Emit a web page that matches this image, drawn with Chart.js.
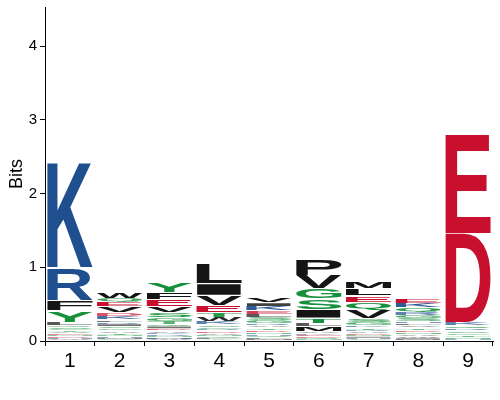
<!DOCTYPE html>
<html><head><meta charset="utf-8">
<script src="https://cdn.jsdelivr.net/npm/chart.js@4/dist/chart.umd.min.js"></script>
<style>html,body{margin:0;padding:0;background:#fff}#wrap{width:500px;height:400px}</style>
</head><body><div id="wrap"><canvas id="c" width="500" height="400"></canvas></div>
<script>
// Sequence logo data: letters listed bottom -> top, heights in bits
const positions = ['1','2','3','4','5','6','7','8','9'];
const letters1 = ['C','W','H','D','N','E','A','T','G','S','Q','L','Y','F','R','K'];
const bits1    = [0.01,0.01,0.02,0.02,0.02,0.02,0.02,0.02,0.02,0.03,0.02,0.04,0.16,0.14,0.44,1.43];
const letters2 = ['C','M','H','N','T','A','G','S','I','R','L','K','D','V','E','Q','W'];
const bits2    = [0.02,0.02,0.02,0.02,0.03,0.03,0.03,0.03,0.03,0.03,0.03,0.05,0.04,0.08,0.07,0.05,0.09];
const letters3 = ['C','W','M','H','N','R','K','A','D','I','Q','T','G','S','V','E','F','Y'];
const bits3    = [0.01,0.01,0.01,0.02,0.02,0.02,0.02,0.03,0.03,0.03,0.03,0.04,0.05,0.06,0.08,0.10,0.10,0.13];
const letters4 = ['Y','F','Q','N','A','D','R','G','S','K','W','T','E','V','I','L'];
const bits4    = [0.02,0.02,0.02,0.02,0.03,0.03,0.02,0.03,0.03,0.04,0.06,0.06,0.10,0.14,0.16,0.27];
const letters5 = ['M','F','Q','H','N','D','T','A','R','G','S','L','E','K','I','V'];
const bits5    = [0.03,0.02,0.02,0.02,0.03,0.03,0.03,0.03,0.03,0.04,0.04,0.04,0.05,0.06,0.05,0.07];
const letters6 = ['N','Q','D','E','K','A','M','L','T','I','S','G','V','P'];
const bits6    = [0.02,0.02,0.02,0.02,0.02,0.03,0.07,0.04,0.07,0.12,0.14,0.14,0.18,0.23];
const letters7 = ['C','H','I','N','D','A','R','T','K','G','S','V','Q','E','L','M'];
const bits7    = [0.02,0.02,0.02,0.02,0.02,0.03,0.02,0.03,0.03,0.04,0.05,0.12,0.10,0.09,0.10,0.10];
const letters8 = ['M','I','W','A','N','D','T','V','L','H','S','G','R','Q','K','E'];
const bits8    = [0.02,0.02,0.02,0.03,0.03,0.03,0.03,0.03,0.03,0.03,0.04,0.04,0.04,0.06,0.06,0.07];
const letters9 = ['H','N','T','G','S','R','Q','K','D','E'];
const bits9    = [0.02,0.03,0.03,0.03,0.03,0.03,0.04,0.04,1.21,1.36];
const yTicks = [0,1,2,3,4];

const stacks = [
  [letters1,bits1],[letters2,bits2],[letters3,bits3],[letters4,bits4],[letters5,bits5],
  [letters6,bits6],[letters7,bits7],[letters8,bits8],[letters9,bits9]
];

const BLUE='#1f4f8e', RED='#c8102e', GREEN='#17903c', BLACK='#151515';
const colorOf = {};
'KRH'.split('').forEach(c=>colorOf[c]=BLUE);
'DE'.split('').forEach(c=>colorOf[c]=RED);
'GSTYCQN'.split('').forEach(c=>colorOf[c]=GREEN);
'AVLIPWFM'.split('').forEach(c=>colorOf[c]=BLACK);

const nLayers = Math.max(...stacks.map(s=>s[0].length));
const datasets = [];
for (let j=0;j<nLayers;j++){
  datasets.push({
    data: stacks.map(s => (j < s[1].length ? s[1][j] : 0)),
    backgroundColor:'rgba(0,0,0,0)', borderWidth:0,
    barPercentage:0.91, categoryPercentage:1.0
  });
}

function drawGlyph(ctx,ch,x,y,w,h,color,alpha){
  ctx.save();
  ctx.globalAlpha=alpha;
  ctx.font='bold 200px "Liberation Sans"';
  ctx.textBaseline='alphabetic'; ctx.textAlign='left';
  const m=ctx.measureText(ch);
  const gl=m.actualBoundingBoxLeft, gr=m.actualBoundingBoxRight;
  const ga=m.actualBoundingBoxAscent, gd=m.actualBoundingBoxDescent;
  const gw=gl+gr, gh=ga+gd;
  ctx.translate(x,y); ctx.scale(w/gw,h/gh);
  ctx.fillStyle=color; ctx.fillText(ch,gl,ga);
  ctx.restore();
}

const logoPlugin = {
  id:'logo',
  afterDatasetsDraw(chart){
    const ctx=chart.ctx;
    chart.data.datasets.forEach((ds,di)=>{
      const meta=chart.getDatasetMeta(di);
      meta.data.forEach((el,i)=>{
        const L = stacks[i][0][di]; if(!L) return;
        const p = el.getProps(['x','y','base','width'],true);
        const top=Math.min(p.y,p.base), h=Math.abs(p.base-p.y);
        if(h<=0) return;
        const inset = Math.min(0.6, h*0.12);
        const alpha = Math.min(1, 0.3 + h*0.14);
        drawGlyph(ctx,L,p.x-p.width/2,top+inset,p.width,h-2*inset,colorOf[L]||BLACK,alpha);
      });
    });
  }
};

new Chart(document.getElementById('c'),{
  type:'bar',
  data:{labels:positions, datasets},
  plugins:[logoPlugin],
  options:{
    responsive:false, animation:false, devicePixelRatio:1,
    layout:{padding:{top:7,right:7,left:0,bottom:0}},
    plugins:{legend:{display:false},tooltip:{enabled:false}},
    scales:{
      x:{
        stacked:true, offset:true,
        grid:{drawOnChartArea:false, drawTicks:true, tickLength:5, color:'#000'},
        border:{display:true,color:'#000',width:1},
        ticks:{color:'#000', padding:3, font:{family:'Liberation Sans', size:21}},
        afterFit:s=>{s.height=59; s.paddingLeft=0; s.paddingRight=0;}
      },
      y:{
        stacked:true, min:0, max:4.53,
        afterBuildTicks:s=>{s.ticks=yTicks.map(v=>({value:v}));},
        grid:{drawOnChartArea:false, drawTicks:true, tickLength:5, color:'#000'},
        border:{display:true,color:'#000',width:1},
        ticks:{color:'#000', padding:3, font:{family:'Liberation Sans', size:15}},
        title:{display:true,text:'Bits',color:'#000',padding:{top:6,bottom:0},font:{family:'Liberation Sans',size:18}},
        afterFit:s=>{s.width=45; s.paddingTop=0; s.paddingBottom=0;}
      }
    }
  }
});
</script></body></html>
